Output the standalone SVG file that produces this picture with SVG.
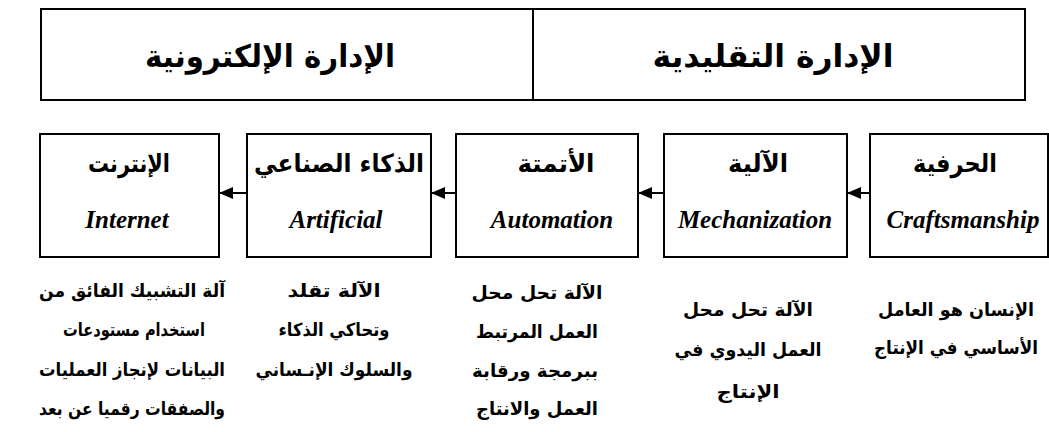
<svg xmlns="http://www.w3.org/2000/svg" width="1049" height="432" viewBox="0 0 1049 432">
  <style>
    .frame { fill: #ffffff; stroke: #000000; stroke-width: 2; }
    .ar { font-family: "DejaVu Sans", "Noto Sans", sans-serif; font-weight: bold; fill: #000000; text-anchor: middle; direction: rtl; }
    .head { font-size: 31px; }
    .title { font-size: 25px; }
    .desc { font-size: 18px; }
    .en { font-family: "Liberation Serif", "DejaVu Serif", serif; font-style: italic; font-weight: bold; font-size: 25px; fill: #000000; text-anchor: middle; }
    .link { stroke: #000000; stroke-width: 2; fill: none; }
  </style>
  <defs>
    <marker id="head" viewBox="0 0 14 12" refX="14" refY="6" markerWidth="14" markerHeight="12" markerUnits="userSpaceOnUse" orient="auto">
      <path d="M0,0 L14,6 L0,12 Z" fill="#000000"/>
    </marker>
  </defs>
  <rect width="1049" height="432" fill="#ffffff"/>

  <!-- top band: two management types -->
  <g id="band">
    <rect class="frame" x="41" y="9" width="984" height="91"/>
    <line class="link" x1="533" y1="9" x2="533" y2="100"/>
  </g>
  <g id="e-management">
    <text class="ar head" x="270" y="67" textLength="250" lengthAdjust="spacingAndGlyphs">الإدارة الإلكترونية</text>
  </g>
  <g id="traditional-management">
    <text class="ar head" x="773" y="67" textLength="241" lengthAdjust="spacingAndGlyphs">الإدارة التقليدية</text>
  </g>

  <!-- stages -->
  <g id="internet">
    <rect class="frame" x="40" y="134" width="179" height="123"/>
    <text class="ar title" x="129" y="172" textLength="82" lengthAdjust="spacingAndGlyphs">الإنترنت</text>
    <text class="en" x="127" y="228">Internet</text>
    <text class="ar desc" x="132" y="297" textLength="186" lengthAdjust="spacingAndGlyphs">آلة التشبيك الفائق من</text>
    <text class="ar desc" x="134" y="336" textLength="142" lengthAdjust="spacingAndGlyphs">استخدام مستودعات</text>
    <text class="ar desc" x="132" y="376" textLength="186" lengthAdjust="spacingAndGlyphs">البيانات لإنجاز العمليات</text>
    <text class="ar desc" x="132" y="415" textLength="186" lengthAdjust="spacingAndGlyphs">والصفقات رقميا عن بعد</text>
  </g>
  <g id="ai">
    <rect class="frame" x="247" y="134" width="184" height="123"/>
    <text class="ar title" x="339" y="172" textLength="170" lengthAdjust="spacingAndGlyphs">الذكاء الصناعي</text>
    <text class="en" x="336" y="228">Artificial</text>
    <text class="ar desc" x="334" y="297" textLength="93" lengthAdjust="spacingAndGlyphs">الآلة تقلد</text>
    <text class="ar desc" x="334" y="336" textLength="111" lengthAdjust="spacingAndGlyphs">وتحاكي الذكاء</text>
    <text class="ar desc" x="334" y="376" textLength="157" lengthAdjust="spacingAndGlyphs">والسلوك الإنـساني</text>
  </g>
  <g id="automation">
    <rect class="frame" x="456" y="134" width="182" height="123"/>
    <text class="ar title" x="556" y="172" textLength="77" lengthAdjust="spacingAndGlyphs">الأتمتة</text>
    <text class="en" x="552" y="228">Automation</text>
    <text class="ar desc" x="537" y="299" textLength="131" lengthAdjust="spacingAndGlyphs">الآلة تحل محل</text>
    <text class="ar desc" x="537" y="338" textLength="122" lengthAdjust="spacingAndGlyphs">العمل المرتبط</text>
    <text class="ar desc" x="535" y="377" textLength="126" lengthAdjust="spacingAndGlyphs">ببرمجة ورقابة</text>
    <text class="ar desc" x="537" y="415" textLength="122" lengthAdjust="spacingAndGlyphs">العمل والانتاج</text>
  </g>
  <g id="mechanization">
    <rect class="frame" x="664" y="134" width="183" height="123"/>
    <text class="ar title" x="758" y="172" textLength="60" lengthAdjust="spacingAndGlyphs">الآلية</text>
    <text class="en" x="755" y="228">Mechanization</text>
    <text class="ar desc" x="748" y="316" textLength="130" lengthAdjust="spacingAndGlyphs">الآلة تحل محل</text>
    <text class="ar desc" x="748" y="356" textLength="147" lengthAdjust="spacingAndGlyphs">العمل اليدوي في</text>
    <text class="ar desc" x="748" y="398" textLength="63" lengthAdjust="spacingAndGlyphs">الإنتاج</text>
  </g>
  <g id="craftsmanship">
    <rect class="frame" x="870" y="134" width="178" height="123"/>
    <text class="ar title" x="955" y="172" textLength="84" lengthAdjust="spacingAndGlyphs">الحرفية</text>
    <text class="en" x="963" y="228">Craftsmanship</text>
    <text class="ar desc" x="956" y="316" textLength="156" lengthAdjust="spacingAndGlyphs">الإنسان هو العامل</text>
    <text class="ar desc" x="956" y="354" textLength="164" lengthAdjust="spacingAndGlyphs">الأساسي في الإنتاج</text>
  </g>

  <!-- progression arrows, right to left -->
  <g id="connectors">
    <line class="link" x1="247" y1="193" x2="219" y2="193" marker-end="url(#head)"/>
    <line class="link" x1="456" y1="193" x2="431" y2="193" marker-end="url(#head)"/>
    <line class="link" x1="664" y1="193" x2="638" y2="193" marker-end="url(#head)"/>
    <line class="link" x1="870" y1="193" x2="847" y2="193" marker-end="url(#head)"/>
  </g>
</svg>
